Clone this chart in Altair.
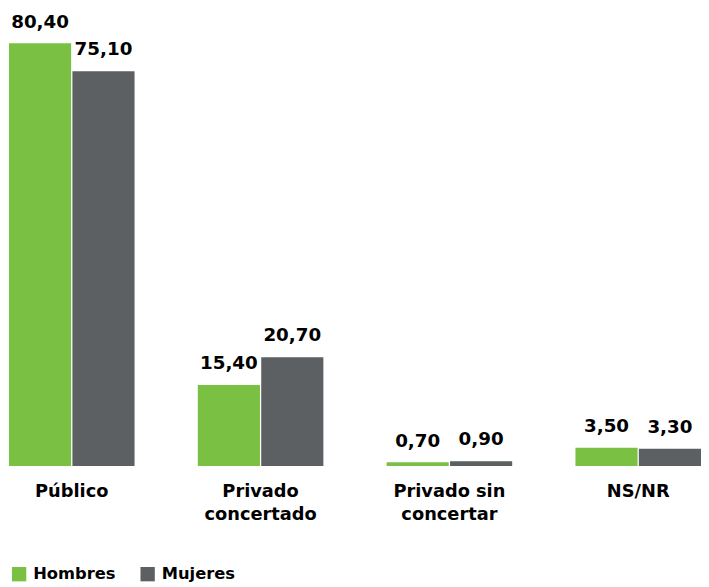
import altair as alt
import pandas as pd

categories = ["Público", "Privado\nconcertado", "Privado sin\nconcertar", "NS/NR"]
hombres = [80.40, 15.40, 0.70, 3.50]
mujeres = [75.10, 20.70, 0.90, 3.30]
series = ["Hombres", "Mujeres"]
colors = ["#7ac143", "#5d6062"]

rows = []
for i, c in enumerate(categories):
    for s, vals in zip(series, [hombres, mujeres]):
        v = vals[i]
        rows.append({"cat": c, "serie": s, "valor": v,
                     "etiqueta": f"{v:.2f}".replace(".", ",")})
df = pd.DataFrame(rows)

FONT = "DejaVu Sans"

x = alt.X("cat:N", sort=categories, title=None,
          scale=alt.Scale(paddingInner=0.335, paddingOuter=0),
          axis=alt.Axis(labelExpr="split(datum.label, '\\n')", labelAngle=0,
                        ticks=False, domain=False, labelPadding=17,
                        labelFontSize=18, labelFontWeight="bold",
                        labelFont=FONT, labelColor="#000000",
                        labelLineHeight=23, labelBaseline="top"))
y = alt.Y("valor:Q", title=None, scale=alt.Scale(domain=[0, 86.5], nice=False),
          axis=None)
xo = alt.XOffset("serie:N", sort=series, scale=alt.Scale(paddingInner=0.02))

base = alt.Chart(df).encode(x=x, xOffset=xo)

bars = base.mark_bar(cornerRadius=0).encode(
    y=y,
    color=alt.Color("serie:N", sort=series,
                    scale=alt.Scale(domain=series, range=colors),
                    legend=alt.Legend(title=None, orient="none", direction="horizontal",
                                      legendX=2, legendY=561, symbolType="square",
                                      symbolSize=210, symbolStrokeWidth=0,
                                      labelFontSize=16.5, labelFontWeight="bold",
                                      labelFont=FONT, labelColor="#000000",
                                      columnPadding=24, labelOffset=6)),
)

texts = base.mark_text(baseline="bottom", dy=-12, fontSize=18.5, fontWeight="bold",
                       font=FONT, color="#000000").encode(
    y=y, text="etiqueta:N")

chart = (bars + texts).properties(width=700, height=460, padding=0).configure_view(
    stroke=None)

chart.save("out.html", embed_options={"renderer": "svg", "actions": False})
